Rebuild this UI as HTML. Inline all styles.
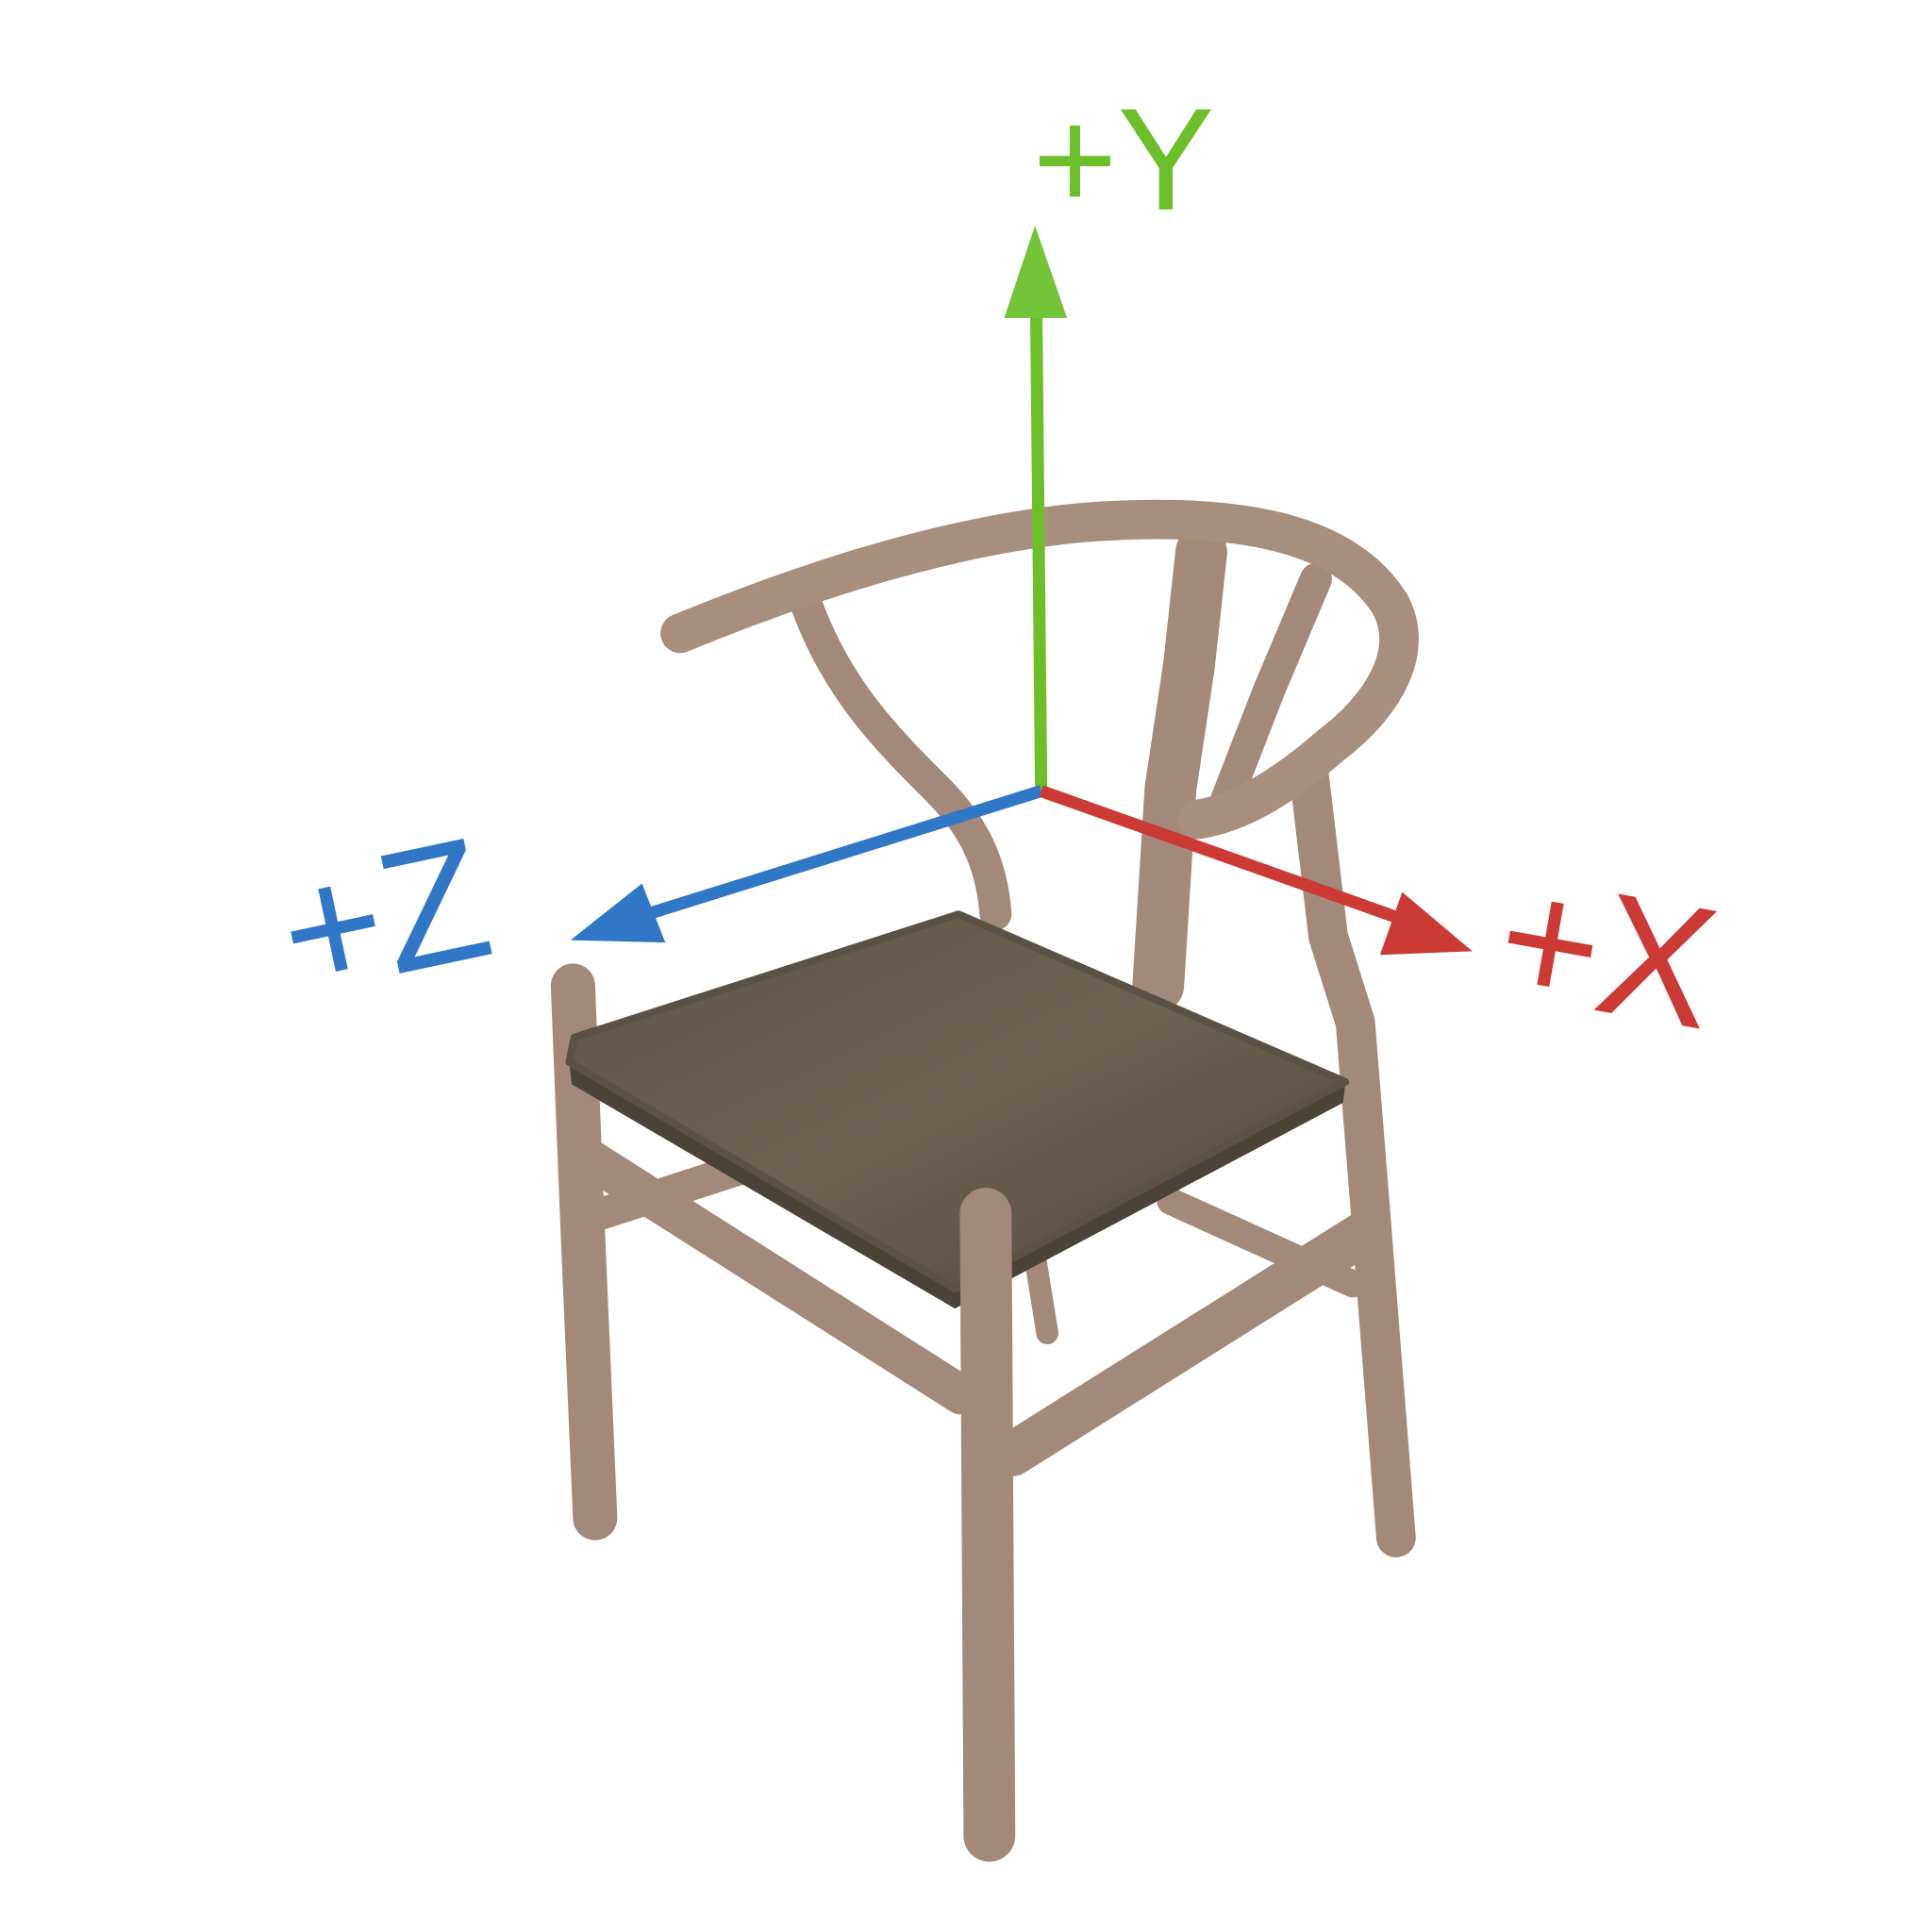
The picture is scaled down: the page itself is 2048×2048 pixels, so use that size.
<!DOCTYPE html>
<html><head><meta charset="utf-8"><style>
html,body{margin:0;padding:0;background:#fff;width:2048px;height:2048px;overflow:hidden}
svg{display:block}
</style></head><body>
<svg width="2048" height="2048" viewBox="0 0 1568 1568">
<defs>
<linearGradient id="seatg" x1="0" y1="0" x2="1" y2="1">
<stop offset="0" stop-color="#5e5647"/><stop offset="0.5" stop-color="#6b6250"/><stop offset="1" stop-color="#4f483c"/>
</linearGradient>
</defs>
<g fill="none" stroke="#a38979" stroke-linecap="round" stroke-linejoin="round">
<path d="M840 1020 L850 1082" stroke-width="18"/>
<path d="M1062 625 L1078 760 L1100 830 L1112 980 L1133 1248" stroke-width="32"/>
<path d="M950 975 L1098 1042" stroke-width="22"/>
<path d="M488 985 L612 945" stroke-width="26"/>
<path d="M975 448 L965 540 L950 640 L940 800" stroke-width="42"/>
<path d="M1068 470 L1030 560 L995 650" stroke-width="26"/>
<path d="M655 492 C680 560 720 600 760 640 C790 670 805 700 808 742" stroke-width="26"/>
<path d="M552 514 C640 478 760 435 880 424 C1000 415 1090 430 1128 490 C1150 530 1120 575 1080 605 C1040 640 1005 660 972 665" stroke-width="32" stroke="#a88e7d"/>
<path d="M465 800 L473 1000 L483 1232" stroke-width="36"/>
<path d="M478 940 L780 1132" stroke-width="32"/>
<path d="M822 1180 L1105 1002" stroke-width="36"/>
<polygon points="462,862 775,1046 1092,878 1090,895 775,1062 464,880" fill="#4a4337" stroke="none"/>
<polygon points="466,842 778,742 1092,878 775,1046 462,862" fill="url(#seatg)" stroke="#5a5244" stroke-width="6"/>
<path d="M800 985 L803 1490" stroke-width="42"/>
</g>
<g>
<line x1="845" y1="642" x2="841" y2="250" stroke="#6cbf2a" stroke-width="10"/>
<polygon points="840,183 815,258 866,258" fill="#74c43a"/>
</g>
<g>
<line x1="845" y1="642" x2="525" y2="742" stroke="#3078c6" stroke-width="10"/>
<polygon points="463,763 521,717 540,765" fill="#3078c6"/>
</g>
<g>
<line x1="845" y1="642" x2="1135" y2="745" stroke="#cc3a36" stroke-width="10"/>
<polygon points="1195,772 1138,724 1120,775" fill="#cc3a36"/>
</g>
<text x="838" y="170" font-family="Liberation Sans, sans-serif" font-size="118" fill="#6cbf2a">+Y</text>
<text x="240" y="808" font-family="Liberation Sans, sans-serif" font-size="140" fill="#3078c6" transform="rotate(-12 240 808)">+Z</text>
<text x="1210" y="805" font-family="Liberation Sans, sans-serif" font-size="140" fill="#cc3a36" transform="rotate(10 1210 805)">+X</text>
</svg>
</body></html>
